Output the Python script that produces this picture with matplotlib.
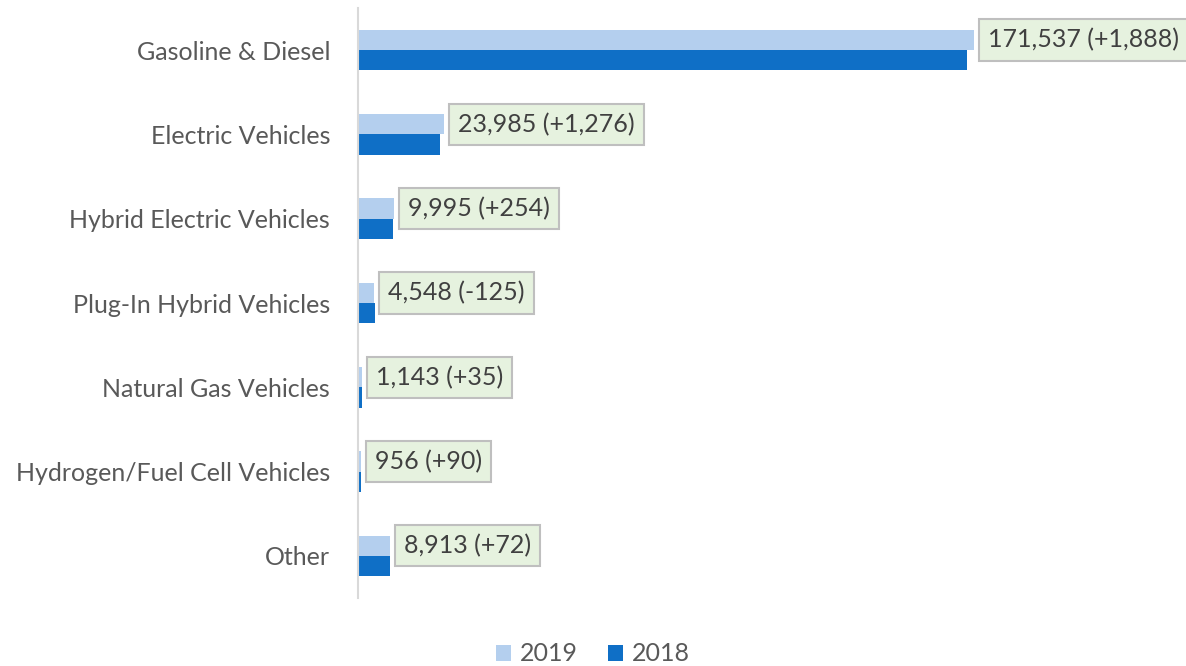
import matplotlib.pyplot as plt
import numpy as np

plt.rcParams['font.family'] = ['Lato', 'DejaVu Sans']

categories = ['Gasoline & Diesel', 'Electric Vehicles', 'Hybrid Electric Vehicles',
              'Plug-In Hybrid Vehicles', 'Natural Gas Vehicles',
              'Hydrogen/Fuel Cell Vehicles', 'Other']
vals_2019 = [171537, 23985, 9995, 4548, 1143, 956, 8913]
changes = [1888, 1276, 254, -125, 35, 90, 72]
vals_2018 = [v - c for v, c in zip(vals_2019, changes)]

c2019 = '#B4CFEE'
c2018 = '#0F6FC6'
grey = '#595959'

fig = plt.figure(figsize=(11.86, 6.66), dpi=100)
ax = fig.add_axes([358 / 1186, 1 - 598 / 666, 1 - 358 / 1186, 590 / 666])

y = np.arange(len(categories))
h = 0.24
ax.barh(y - h / 2, vals_2019, height=h, color=c2019, label='2019')
ax.barh(y + h / 2, vals_2018, height=h, color=c2018, label='2018')

for yi, v, c in zip(y, vals_2019, changes):
    ax.annotate(f'{v:,} ({c:+,})', xy=(v, yi - h / 2), xytext=(10, 0),
                textcoords='offset points', ha='left', va='center',
                fontsize=18, color='#404040', annotation_clip=False,
                bbox=dict(boxstyle='square,pad=0.36', fc='#E6F2DF', ec='#BFBFBF', lw=1.5))

ax.set_xlim(0, 171537 * (1186 - 358) / 616)
ax.set_ylim(len(categories) - 0.5, -0.5)
ax.set_yticks(y)
ax.set_yticklabels(categories, fontsize=18, color=grey)
ax.tick_params(axis='y', length=0, pad=20)
ax.set_xticks([])
for s in ['top', 'right', 'bottom']:
    ax.spines[s].set_visible(False)
ax.spines['left'].set_color('#D9D9D9')
ax.spines['left'].set_linewidth(1.5)

fig.legend(loc='lower center', bbox_to_anchor=(0.5, -0.033), ncol=2, frameon=False,
           fontsize=18, labelcolor=grey, handlelength=0.6, handleheight=0.6,
           handletextpad=0.35, columnspacing=1.2)

fig.savefig('out.png', dpi=100)
